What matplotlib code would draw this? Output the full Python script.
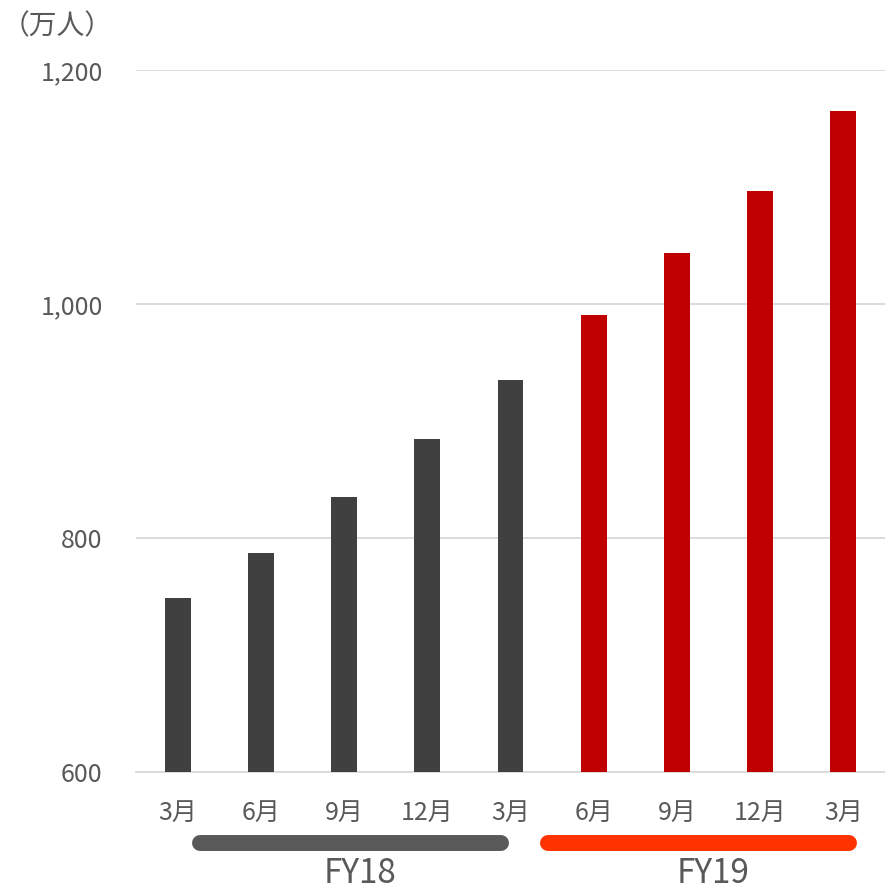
import numpy as np
import matplotlib
matplotlib.use('Agg')
import matplotlib.pyplot as plt
from matplotlib.transforms import blended_transform_factory

plt.rcParams['font.family'] = ['Noto Sans CJK JP', 'DejaVu Sans']

# data
months = ['3月', '6月', '9月', '12月', '3月', '6月', '9月', '12月', '3月']
users = [749, 787, 835, 885, 935, 991, 1044, 1097, 1165]
fiscal = ['FY18'] * 5 + ['FY19'] * 4
yticks = [600, 800, 1000, 1200]

colors = {'FY18': '#404040', 'FY19': '#C00000'}
pill_colors = {'FY18': '#595959', 'FY19': '#FF3300'}
txt = '#595959'

fig = plt.figure(figsize=(8.85, 8.92), dpi=100)
ax = fig.add_axes([0.1537, 0.1345, 0.8463, 0.787])

x = np.arange(len(months))
ax.bar(x, users, width=0.31, color=[colors[f] for f in fiscal], zorder=3)

ax.set_xlim(-0.5, len(months) - 0.5)
ax.set_ylim(600, 1200)
ax.set_yticks(yticks)
ax.set_yticklabels([f'{v:,}' for v in yticks])
ax.set_xticks(x)
ax.set_xticklabels(months)
ax.tick_params(axis='both', length=0, labelsize=18, colors=txt)
ax.tick_params(axis='x', pad=20)
ax.tick_params(axis='y', pad=24)
ax.grid(axis='y', color='#D9D9D9', linewidth=1.3, zorder=0)
for s in ['top', 'right', 'left']:
    ax.spines[s].set_visible(False)
ax.spines['bottom'].set_color('#D9D9D9')
ax.spines['bottom'].set_linewidth(1.3)

# fiscal year pills
tr = blended_transform_factory(ax.transData, ax.transAxes)
groups = [('FY18', 0.27, 3.88, 2.19), ('FY19', 4.45, 8.07, 6.43)]
for name, x0, x1, xt in groups:
    ax.plot([x0, x1], [-0.101, -0.101], transform=tr, color=pill_colors[name],
            linewidth=11.5, solid_capstyle='round', clip_on=False)
    ax.text(xt, -0.144, name, transform=tr, ha='center', va='center',
            fontsize=24, color=txt)

fig.text(0.002, 0.971, '（万人）', ha='left', va='center', fontsize=20, color=txt)

fig.savefig('out.png', dpi=100)
